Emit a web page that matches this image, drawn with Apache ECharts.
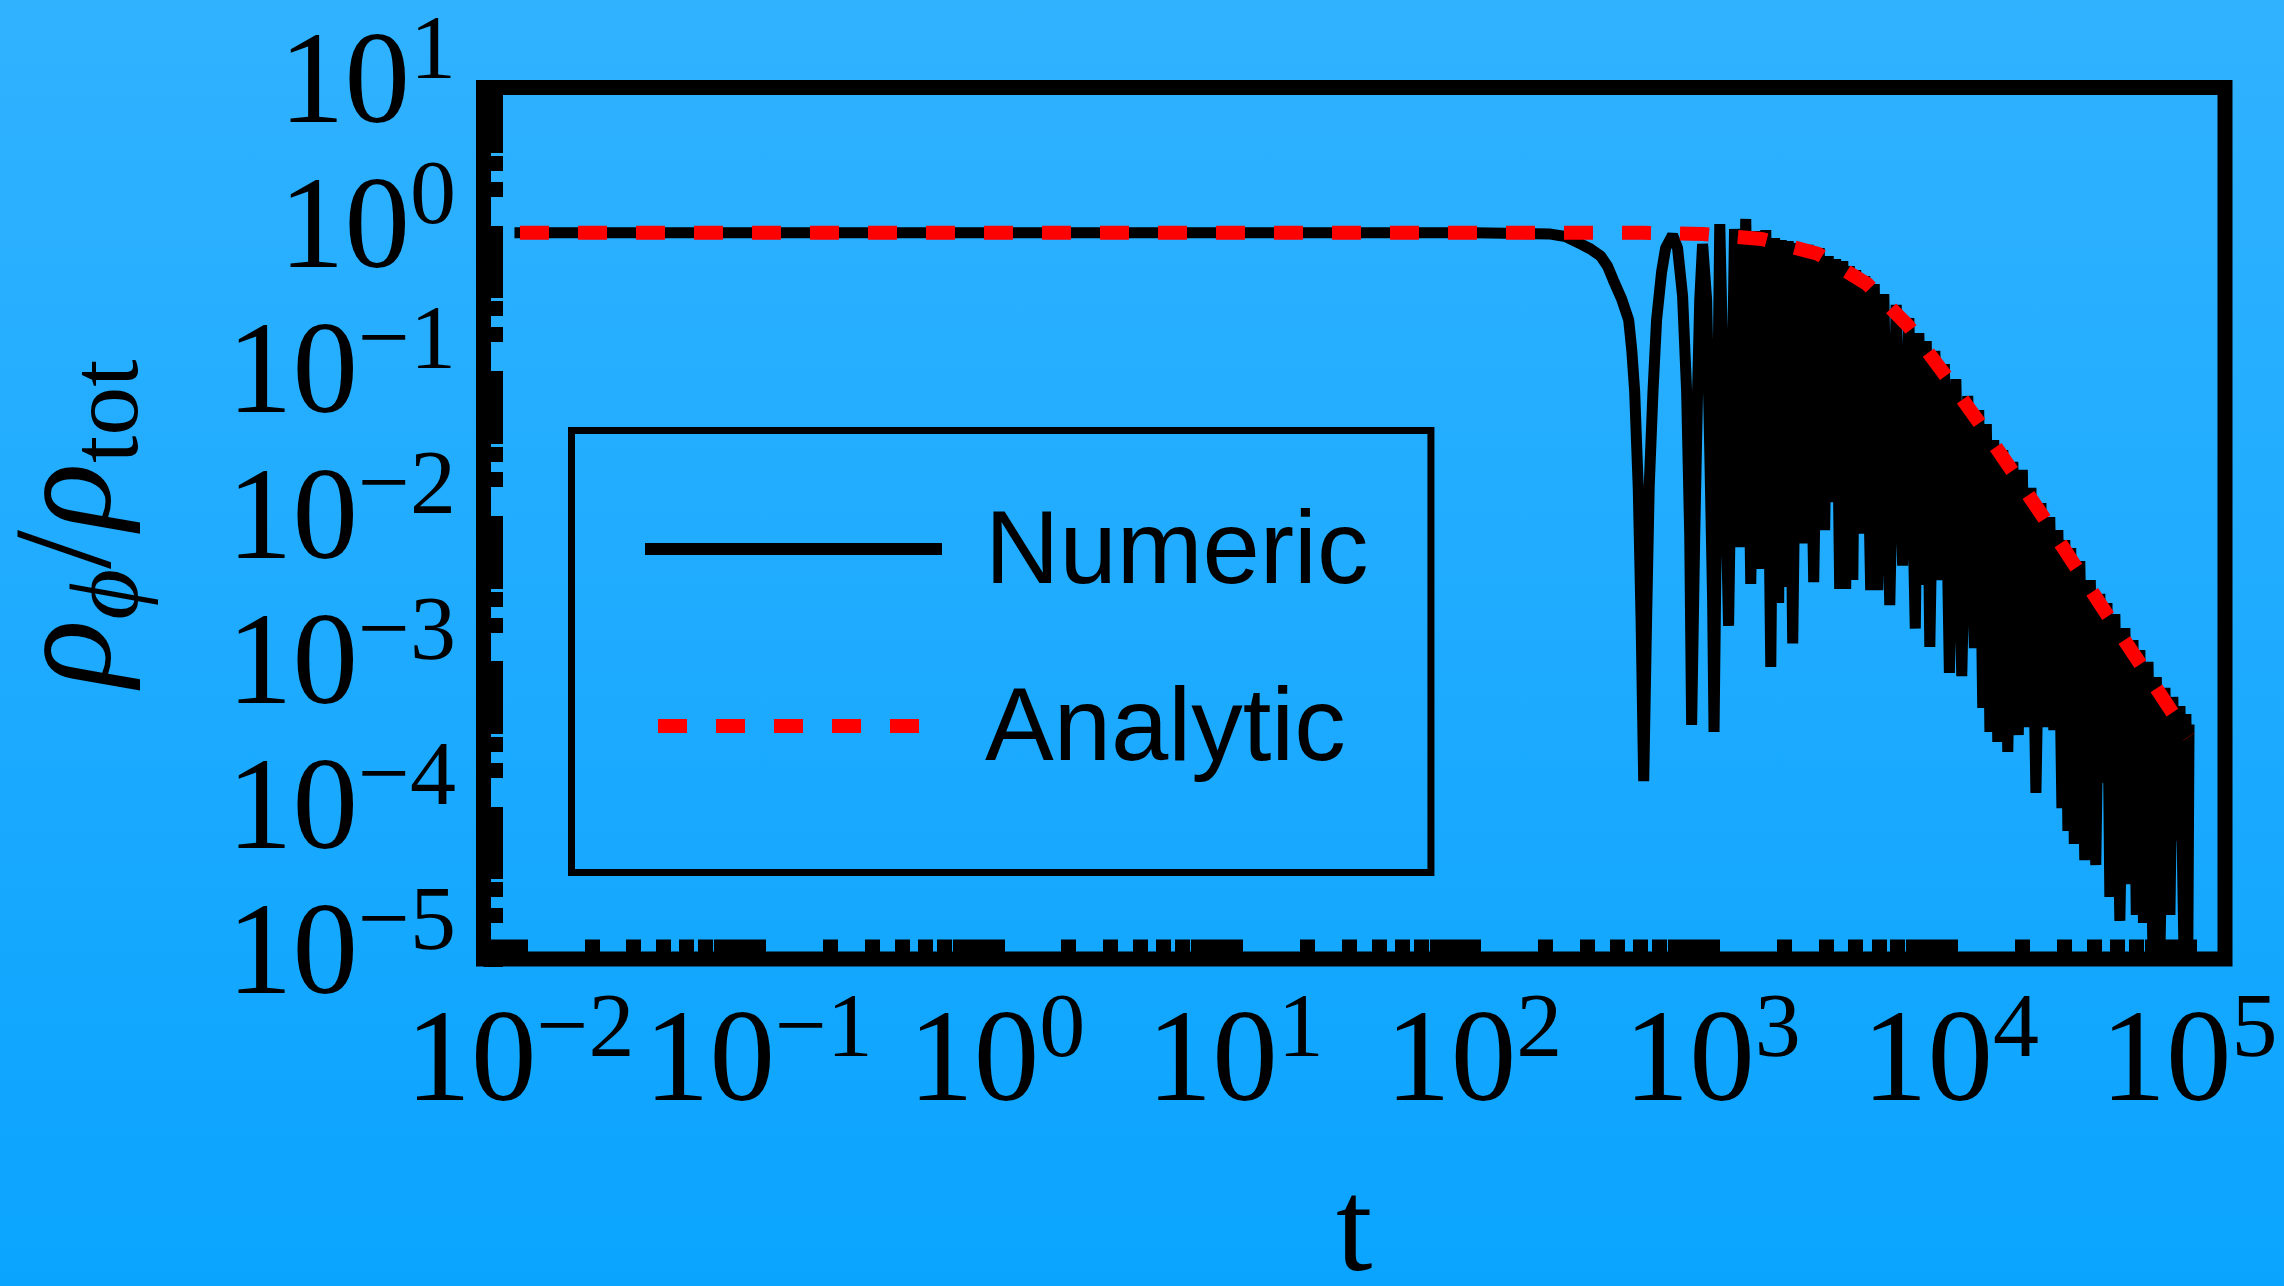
<!DOCTYPE html>
<html>
<head>
<meta charset="utf-8">
<script src="https://cdn.jsdelivr.net/npm/echarts@6/dist/echarts.min.js"></script>
<style>
html,body{margin:0;padding:0;}
#chart{width:2284px;height:1286px;background:linear-gradient(to bottom,#30b2ff 0%,#1eabff 50%,#0aa4ff 100%);}
</style>
</head>
<body>
<div id="chart"></div>
<script>
// All values are read off the log-log picture and stored as log10 exponents:
// [log10(t), log10(rho_phi / rho_tot)]

// Numeric solution: flat part and first slow oscillations
const numericEarly = [
  [-2, 0], [2.0, 0], [2.322, -0.009], [2.385, -0.026], [2.448, -0.077], [2.490, -0.112],
  [2.532, -0.160], [2.561, -0.229], [2.587, -0.332], [2.620, -0.455], [2.650, -0.601], [2.663, -0.810],
  [2.675, -1.090], [2.690, -1.750], [2.702, -2.666], [2.713, -3.775], [2.725, -2.666], [2.736, -1.750],
  [2.752, -1.090], [2.767, -0.601], [2.788, -0.270], [2.805, -0.105], [2.834, -0.016],
  [2.855, -0.105], [2.876, -0.435], [2.893, -1.090], [2.906, -2.081], [2.914, -3.389],
  [2.927, -2.081], [2.939, -1.090], [2.948, -0.463], [2.960, -0.077], [2.977, -0.463],
  [2.990, -1.496], [3.002, -2.528], [3.008, -3.437]
];

// Numeric solution: fast oscillations (alternating crests and troughs)
const numericFast = [
  [3.032, 0.060], [3.069, -2.707], [3.094, 0.026], [3.120, -2.164], [3.141, 0.095], [3.162, -2.418],
  [3.183, 0.012], [3.204, -2.315], [3.225, 0.019], [3.246, -2.990], [3.262, -0.036], [3.279, -2.549],
  [3.290, -0.050], [3.300, -2.439], [3.319, -0.057], [3.338, -2.828], [3.359, -0.071], [3.380, -2.139],
  [3.403, -0.084], [3.426, -2.405], [3.449, -0.105], [3.472, -2.047], [3.487, -0.160], [3.501, -1.854],
  [3.518, -0.181], [3.535, -2.453], [3.548, -0.195], [3.560, -2.453], [3.575, -0.229], [3.590, -2.391],
  [3.602, -0.257], [3.615, -2.071], [3.640, -0.298], [3.665, -2.460], [3.680, -0.353], [3.695, -2.460],
  [3.720, -0.422], [3.745, -2.563], [3.772, -0.497], [3.799, -2.292], [3.825, -0.587], [3.852, -2.725],
  [3.867, -0.690], [3.883, -2.425], [3.898, -0.745], [3.913, -2.852], [3.934, -0.814], [3.955, -2.391],
  [3.974, -0.904], [3.995, -3.031], [4.022, -1.007], [4.047, -3.052], [4.072, -1.124], [4.100, -2.859],
  [4.118, -1.220], [4.135, -3.272], [4.150, -1.317], [4.165, -3.437], [4.181, -1.427], [4.198, -3.506],
  [4.219, -1.496], [4.240, -3.575], [4.261, -1.578], [4.284, -3.458], [4.301, -1.633], [4.318, -3.403],
  [4.337, -1.757], [4.358, -3.857], [4.379, -1.861], [4.397, -3.403], [4.416, -1.957], [4.433, -3.424],
  [4.450, -2.047], [4.467, -3.961], [4.479, -2.115], [4.492, -4.119], [4.504, -2.170], [4.519, -4.208],
  [4.542, -2.260], [4.563, -4.319], [4.586, -2.391], [4.609, -4.353], [4.626, -2.487], [4.643, -3.788],
  [4.656, -2.549], [4.668, -4.573], [4.689, -2.625], [4.710, -4.738], [4.731, -2.721], [4.750, -4.484],
  [4.765, -2.804], [4.779, -4.697], [4.794, -2.873], [4.809, -4.752], [4.828, -2.955], [4.849, -4.952],
  [4.863, -3.059], [4.878, -4.952], [4.899, -3.134], [4.920, -4.697], [4.932, -3.196], [4.945, -4.188],
  [4.962, -3.258], [4.979, -4.952], [4.987, -3.313], [4.995, -4.952], [5.000, -3.424]
];

// Analytic envelope
const analytic = [
  [-2, 0], [2.0, 0], [2.49, 0], [2.713, 0], [2.96, -0.009], [3.208, -0.043], [3.443, -0.144],
  [3.65, -0.353], [3.823, -0.642], [3.971, -0.966], [4.114, -1.293], [4.253, -1.627],
  [4.389, -1.957], [4.523, -2.294], [4.658, -2.632], [4.796, -2.969], [4.93, -3.303], [5.0, -3.47]
];

// Axis extents (log10) and labelled decades
const xRange = [-2.153, 5.151];
const yRange = [-5, 1];
const xDecades = [-2, -1, 0, 1, 2, 3, 4, 5];
const yDecadesOdd = [-5, -3, -1, 1];
const yDecadesEven = [-4, -2, 0];
const tickMultipliers = [1, 2, 3, 4, 5, 6, 7, 8, 9];

const seriesNames = ['Numeric', 'Analytic'];
const xName = 't';

const SERIF = '"Liberation Serif","Times New Roman","DejaVu Serif",serif';
const SANS = '"Liberation Sans",Arial,Helvetica,sans-serif';

function logTicks(lo, hi) {
  const out = [];
  for (let k = Math.floor(lo); k <= Math.ceil(hi); k++) {
    for (const m of tickMultipliers) {
      const v = k + Math.log10(m);
      if (v >= lo - 1e-9 && v <= hi + 1e-9) out.push(+v.toFixed(6));
    }
  }
  return out;
}
function decadeLabel(v) {
  const e = Math.round(v);
  return '{b|10}{s|' + (e < 0 ? '\u2212' + (-e) : String(e)) + '}';
}
const labelRich = {
  b: { fontFamily: SERIF, fontSize: 131, lineHeight: 130, height: 130, color: '#000' },
  s: { fontFamily: SERIF, fontSize: 92, lineHeight: 62, height: 62, verticalAlign: 'top', color: '#000' }
};
function yLabelStyle(values) {
  return { show: true, margin: 27.5, customValues: values, formatter: decadeLabel, interval: 0,
           showMinLabel: true, showMaxLabel: true, hideOverlap: false,
           fontFamily: SERIF, fontSize: 131, color: '#000', rich: labelRich };
}

const chart = echarts.init(document.getElementById('chart'), null, { renderer: 'canvas' });
chart.setOption({
  backgroundColor: 'transparent',
  animation: false,
  grid: {
    left: 483.5, right: 59, top: 87.5, bottom: 327,
    show: true, borderColor: '#000', borderWidth: 15, backgroundColor: 'transparent',
    containLabel: false, outerBoundsMode: 'none'
  },
  legend: {
    orient: 'vertical',
    left: 571.5, top: 430.5,
    padding: [63, 62.5, 89.5, 72.5],
    itemWidth: 285, itemHeight: 14, itemGap: 64.5,
    borderColor: '#000', borderWidth: 7, backgroundColor: 'transparent',
    selectedMode: false,
    itemStyle: { opacity: 0 },
    formatter: '{a|{name}}',
    textStyle: {
      fontFamily: SANS, fontSize: 103, color: '#000',
      rich: { a: { fontFamily: SANS, fontSize: 103, color: '#000', height: 100, lineHeight: 111, padding: [11, 0, 0, 44] } }
    },
    data: [
      { name: seriesNames[0], itemStyle: { opacity: 0 }, lineStyle: { color: '#000', width: 12, type: 'solid' } },
      { name: seriesNames[1], itemStyle: { opacity: 0 }, lineStyle: { color: '#ff0000', width: 14, type: [29, 29], dashOffset: 51 } }
    ]
  },
  xAxis: {
    type: 'value', min: xRange[0], max: xRange[1],
    axisLine: { show: false, onZero: false },
    splitLine: { show: false },
    axisTick: { show: true, inside: true, length: 19.5, customValues: logTicks(xRange[0], xRange[1]),
                lineStyle: { color: '#000', width: 15 } },
    axisLabel: { show: true, margin: 42, customValues: xDecades, formatter: decadeLabel, interval: 0,
                 showMinLabel: true, showMaxLabel: true, hideOverlap: false,
                 fontFamily: SERIF, fontSize: 131, color: '#000', rich: labelRich },
    name: xName, nameLocation: 'middle', nameGap: 211,
    nameTextStyle: { fontFamily: SERIF, fontSize: 131, lineHeight: 131, color: '#000' }
  },
  yAxis: [
    {
      type: 'value', min: yRange[0], max: yRange[1], position: 'left',
      axisLine: { show: false, onZero: false },
      splitLine: { show: false },
      axisTick: { show: true, inside: true, length: 19.5, customValues: logTicks(yRange[0], yRange[1]),
                  lineStyle: { color: '#000', width: 15 } },
      axisLabel: yLabelStyle(yDecadesOdd),
      name: '{r|\u03c1}{s|\u03d5}{n|/}{r|\u03c1}{t|tot}',
      nameLocation: 'middle', nameGap: 340,
      nameTextStyle: {
        color: '#000',
        rich: {
          r: { fontFamily: SERIF, fontStyle: 'italic', fontSize: 140, lineHeight: 140, color: '#000' },
          n: { fontFamily: SERIF, fontSize: 140, lineHeight: 140, color: '#000' },
          s: { fontFamily: SERIF, fontStyle: 'italic', fontSize: 98, lineHeight: 62, padding: [76, 0, 0, 0], color: '#000' },
          t: { fontFamily: SERIF, fontSize: 98, lineHeight: 62, padding: [76, 0, 0, 0], color: '#000' }
        }
      }
    },
    {
      type: 'value', min: yRange[0], max: yRange[1], position: 'left', offset: 0,
      axisLine: { show: false, onZero: false },
      splitLine: { show: false },
      axisTick: { show: false },
      axisLabel: yLabelStyle(yDecadesEven)
    }
  ],
  series: [
    {
      name: seriesNames[0], type: 'line', yAxisIndex: 0,
      data: numericEarly.concat(numericFast),
      symbol: 'none', showSymbol: false,
      lineStyle: { color: '#000', width: 11, join: 'bevel', cap: 'square' },
      itemStyle: { color: '#000' },
      emphasis: { disabled: true }, z: 2
    },
    {
      name: seriesNames[1], type: 'line', yAxisIndex: 0,
      data: analytic,
      symbol: 'none', showSymbol: false,
      lineStyle: { color: '#ff0000', width: 14, type: [29, 29], cap: 'butt' },
      itemStyle: { color: '#ff0000' },
      emphasis: { disabled: true }, z: 3
    }
  ]
});
</script>
</body>
</html>
